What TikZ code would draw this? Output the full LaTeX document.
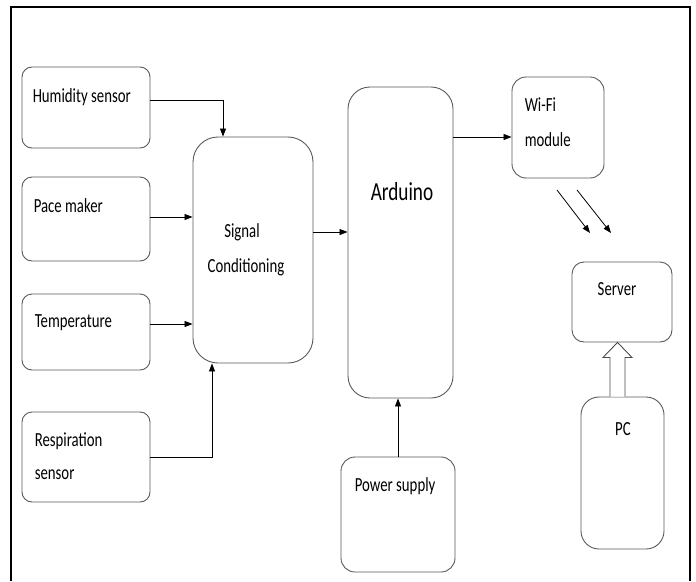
\documentclass[tikz,border=0pt]{standalone}
\usepackage{fontspec}
\setmainfont{Carlito}
\usetikzlibrary{arrows.meta,calc,positioning}

\newcommand\narrow[1]{\scalebox{0.74}[1]{#1}}
\tikzset{
blk/.style={draw=black!65, line width=0.9pt, rounded corners=#1, inner sep=0pt},
blk/.default=10pt,
txt/.style={inner sep=0pt, font=\fontsize{20}{35}\selectfont},
arr/.style={-{Triangle[length=8pt,width=6pt]}, line width=0.8pt},
}

\begin{document}
\begin{tikzpicture}[x=1pt, y=-1pt]
\useasboundingbox (0,0) rectangle (696,581);
\draw [line width=2.2pt] (11,581) -- (11,7) -- (690,7) -- (690,581);

% boxes
\node [blk, minimum width=128, minimum height=81] (hum) at (86,107.5) {};
\node [blk, minimum width=128, minimum height=84] (pace) at (86,219) {};
\node [blk, minimum width=128, minimum height=76] (temp) at (86,332) {};
\node [blk, minimum width=128, minimum height=90] (resp) at (86,457) {};
\node [blk=25pt, minimum width=120, minimum height=226] (sig) at (253,250) {};
\node [blk=22pt, minimum width=105, minimum height=311] (ard) at (400.5,242.5) {};
\node [blk=14pt, minimum width=114, minimum height=115] (pwr) at (398,514.5) {};
\node [blk=14pt, minimum width=92, minimum height=101] (wifi) at (558,127.5) {};
\node [blk=12pt, minimum width=100, minimum height=80] (srv) at (622,302) {};
\node [blk=18pt, minimum width=83, minimum height=152] (pc) at (622.5,473) {};

% texts
\node [txt, anchor=base west] (hum-t) at ($(hum.north west)+(11,36)$) {\narrow{Humidity sensor}};
\node [txt, anchor=base west] (pace-t) at ($(pace.north west)+(12,36)$) {\narrow{Pace maker}};
\node [txt, anchor=base west] (temp-t) at ($(temp.north west)+(13,34)$) {\narrow{Temperature}};
\node [txt, anchor=base west] (resp-t) at ($(resp.north west)+(13,35)$) {\narrow{Respiration}};
\node [txt, anchor=base west] (resp-t2) at ($(resp-t.base west)+(0,33)$) {\narrow{sensor}};
\node [txt, anchor=base] (sig-t) at (242,237) {\narrow{Signal}};
\node [txt, anchor=base] (sig-t2) at ($(sig-t.base)+(4,35)$) {\narrow{Conditioning}};
\node [txt, anchor=base, font=\fontsize{26}{30}\selectfont] (ard-t) at (402,200) {\narrow{Arduino}};
\node [txt, anchor=base west] (wifi-t) at ($(wifi.north west)+(13,35)$) {\narrow{Wi-Fi}};
\node [txt, anchor=base west] (wifi-t2) at ($(wifi-t.base west)+(0,35)$) {\narrow{module}};
\node [txt, anchor=base] (srv-t) at (617,295) {\narrow{Server}};
\node [txt, anchor=base] (pc-t) at (623,435) {\narrow{PC}};
\node [txt, anchor=base west] (pwr-t) at ($(pwr.north west)+(14,35)$) {\narrow{Power supply}};

% connectors
\coordinate (pace-o) at ($(pace.east)+(0,-2)$);
\coordinate (temp-o) at ($(temp.east)+(0,-8)$);
\coordinate (sig-o) at ($(sig.east)+(0,-18)$);
\coordinate (wifi-in) at ($(wifi.west)+(0,9.5)$);
\draw [arr] ($(hum.east)+(0,-7)$) -| ($(sig.north)+(-30,0)$);
\draw [arr] (pace-o) -- (pace-o -| sig.west);
\draw [arr] (temp-o) -- (temp-o -| sig.west);
\draw [arr] (resp.east) -| ($(sig.south)+(-41,0)$);
\draw [arr] (sig-o) -- (sig-o -| ard.west);
\draw [arr] (pwr.north) -- (pwr.north |- ard.south);
\draw [arr] (wifi-in -| ard.east) -- (wifi-in);

% wireless link
\coordinate (w1a) at (557,190); \coordinate (w1b) at (590,233);
\coordinate (w2a) at (577,190); \coordinate (w2b) at (611,233);
\draw [arr] (w1a) -- (w1b);
\draw [arr] (w2a) -- (w2b);

% hollow arrow pc -> server
\coordinate (up) at ($(pc.north)+(-5,0)$);
\draw [draw=black!70, line width=0.9pt, fill=white]
($(up)+(-7.5,0)$) -- ($(up |- srv.south)+(-7.5,15)$) -- ++(-7,0)
-- (up |- srv.south) -- ($(up |- srv.south)+(14.5,15)$) -- ++(-7,0)
-- ($(up)+(7.5,0)$);
\end{tikzpicture}
\end{document}
